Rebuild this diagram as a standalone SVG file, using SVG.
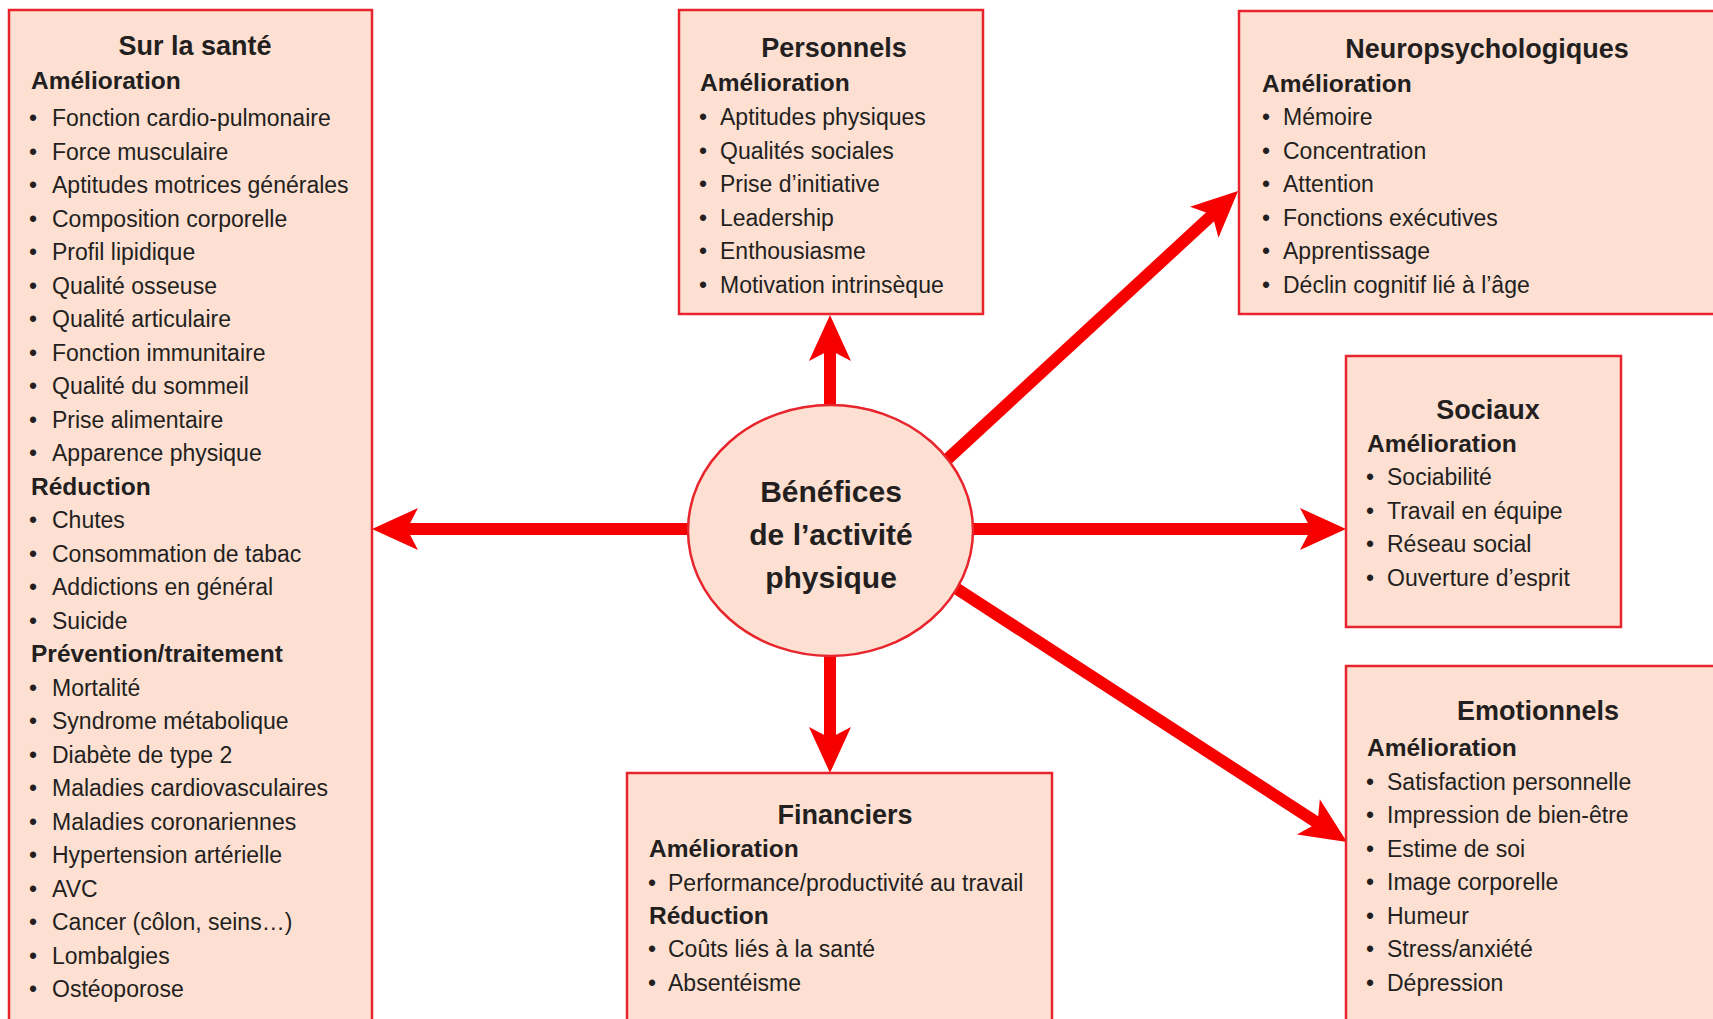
<svg xmlns="http://www.w3.org/2000/svg" width="1713" height="1019" viewBox="0 0 1713 1019">
<style>
.box{fill:#fde0d2;stroke:#e8242c;stroke-width:2.5}
text{font-family:"Liberation Sans",Arial,sans-serif;fill:#231f20}
.t{font-size:27px;font-weight:bold;text-anchor:middle}
.h{font-size:24.5px;font-weight:bold}
.i{font-size:23px}
.c{font-size:30px;font-weight:bold;text-anchor:middle}
.arr{stroke:#f70000;stroke-width:12;fill:none;marker-end:url(#ah)}
</style>
<defs>
<marker id="ah" markerUnits="userSpaceOnUse" viewBox="-20 -25 55 50" refX="0" refY="0" markerWidth="55" markerHeight="50" orient="auto" overflow="visible">
<path d="M30,0 L-16,-21 L-5,0 L-16,21 Z" fill="#f70000"/>
</marker>
</defs>
<rect width="1713" height="1019" fill="#ffffff"/>
<g id="connectors">
<line class="arr" x1="700" y1="529" x2="402" y2="529"/>
<line class="arr" x1="960" y1="529" x2="1316" y2="529"/>
<line class="arr" x1="830" y1="415" x2="830" y2="345"/>
<line class="arr" x1="830" y1="646" x2="830" y2="743"/>
<line class="arr" x1="940" y1="466" x2="1216" y2="211.4"/>
<line class="arr" x1="951" y1="585" x2="1321.8" y2="825.7"/>
</g>
<g id="center">
<ellipse class="box" cx="830.5" cy="530.5" rx="142.5" ry="125.5"/>
<text class="c" x="831" y="502">Bénéfices</text>
<text class="c" x="831" y="545">de l’activité</text>
<text class="c" x="831" y="588">physique</text>
</g>
<g id="sante">
<rect class="box" x="9" y="10" width="363" height="1030"/>
<text class="t" x="195" y="55">Sur la santé</text>
<text class="h" x="31" y="89">Amélioration</text>
<text class="i" y="126"><tspan x="29">•</tspan><tspan x="52">Fonction cardio-pulmonaire</tspan></text>
<text class="i" y="159.5"><tspan x="29">•</tspan><tspan x="52">Force musculaire</tspan></text>
<text class="i" y="193"><tspan x="29">•</tspan><tspan x="52">Aptitudes motrices générales</tspan></text>
<text class="i" y="226.5"><tspan x="29">•</tspan><tspan x="52">Composition corporelle</tspan></text>
<text class="i" y="260"><tspan x="29">•</tspan><tspan x="52">Profil lipidique</tspan></text>
<text class="i" y="293.5"><tspan x="29">•</tspan><tspan x="52">Qualité osseuse</tspan></text>
<text class="i" y="327"><tspan x="29">•</tspan><tspan x="52">Qualité articulaire</tspan></text>
<text class="i" y="360.5"><tspan x="29">•</tspan><tspan x="52">Fonction immunitaire</tspan></text>
<text class="i" y="394"><tspan x="29">•</tspan><tspan x="52">Qualité du sommeil</tspan></text>
<text class="i" y="427.5"><tspan x="29">•</tspan><tspan x="52">Prise alimentaire</tspan></text>
<text class="i" y="461"><tspan x="29">•</tspan><tspan x="52">Apparence physique</tspan></text>
<text class="h" x="31" y="494.5">Réduction</text>
<text class="i" y="528"><tspan x="29">•</tspan><tspan x="52">Chutes</tspan></text>
<text class="i" y="561.5"><tspan x="29">•</tspan><tspan x="52">Consommation de tabac</tspan></text>
<text class="i" y="595"><tspan x="29">•</tspan><tspan x="52">Addictions en général</tspan></text>
<text class="i" y="628.5"><tspan x="29">•</tspan><tspan x="52">Suicide</tspan></text>
<text class="h" x="31" y="662">Prévention/traitement</text>
<text class="i" y="695.5"><tspan x="29">•</tspan><tspan x="52">Mortalité</tspan></text>
<text class="i" y="729"><tspan x="29">•</tspan><tspan x="52">Syndrome métabolique</tspan></text>
<text class="i" y="762.5"><tspan x="29">•</tspan><tspan x="52">Diabète de type 2</tspan></text>
<text class="i" y="796"><tspan x="29">•</tspan><tspan x="52">Maladies cardiovasculaires</tspan></text>
<text class="i" y="829.5"><tspan x="29">•</tspan><tspan x="52">Maladies coronariennes</tspan></text>
<text class="i" y="863"><tspan x="29">•</tspan><tspan x="52">Hypertension artérielle</tspan></text>
<text class="i" y="896.5"><tspan x="29">•</tspan><tspan x="52">AVC</tspan></text>
<text class="i" y="930"><tspan x="29">•</tspan><tspan x="52">Cancer (côlon, seins…)</tspan></text>
<text class="i" y="963.5"><tspan x="29">•</tspan><tspan x="52">Lombalgies</tspan></text>
<text class="i" y="997"><tspan x="29">•</tspan><tspan x="52">Ostéoporose</tspan></text>
</g>
<g id="personnels">
<rect class="box" x="679" y="10" width="304" height="304"/>
<text class="t" x="834" y="57">Personnels</text>
<text class="h" x="700" y="91">Amélioration</text>
<text class="i" y="125"><tspan x="699">•</tspan><tspan x="720">Aptitudes physiques</tspan></text>
<text class="i" y="158.5"><tspan x="699">•</tspan><tspan x="720">Qualités sociales</tspan></text>
<text class="i" y="192"><tspan x="699">•</tspan><tspan x="720">Prise d’initiative</tspan></text>
<text class="i" y="225.5"><tspan x="699">•</tspan><tspan x="720">Leadership</tspan></text>
<text class="i" y="259"><tspan x="699">•</tspan><tspan x="720">Enthousiasme</tspan></text>
<text class="i" y="292.5"><tspan x="699">•</tspan><tspan x="720">Motivation intrinsèque</tspan></text>
</g>
<g id="neuropsychologiques">
<rect class="box" x="1239" y="11" width="500" height="303"/>
<text class="t" x="1487" y="58">Neuropsychologiques</text>
<text class="h" x="1262" y="92">Amélioration</text>
<text class="i" y="125"><tspan x="1262">•</tspan><tspan x="1283">Mémoire</tspan></text>
<text class="i" y="158.5"><tspan x="1262">•</tspan><tspan x="1283">Concentration</tspan></text>
<text class="i" y="192"><tspan x="1262">•</tspan><tspan x="1283">Attention</tspan></text>
<text class="i" y="225.5"><tspan x="1262">•</tspan><tspan x="1283">Fonctions exécutives</tspan></text>
<text class="i" y="259"><tspan x="1262">•</tspan><tspan x="1283">Apprentissage</tspan></text>
<text class="i" y="292.5"><tspan x="1262">•</tspan><tspan x="1283">Déclin cognitif lié à l’âge</tspan></text>
</g>
<g id="sociaux">
<rect class="box" x="1346" y="356" width="275" height="271"/>
<text class="t" x="1488" y="419">Sociaux</text>
<text class="h" x="1367" y="452">Amélioration</text>
<text class="i" y="485"><tspan x="1366">•</tspan><tspan x="1387">Sociabilité</tspan></text>
<text class="i" y="518.5"><tspan x="1366">•</tspan><tspan x="1387">Travail en équipe</tspan></text>
<text class="i" y="552"><tspan x="1366">•</tspan><tspan x="1387">Réseau social</tspan></text>
<text class="i" y="585.5"><tspan x="1366">•</tspan><tspan x="1387">Ouverture d’esprit</tspan></text>
</g>
<g id="emotionnels">
<rect class="box" x="1346" y="666" width="400" height="400"/>
<text class="t" x="1538" y="720">Emotionnels</text>
<text class="h" x="1367" y="756">Amélioration</text>
<text class="i" y="789.5"><tspan x="1366">•</tspan><tspan x="1387">Satisfaction personnelle</tspan></text>
<text class="i" y="823"><tspan x="1366">•</tspan><tspan x="1387">Impression de bien-être</tspan></text>
<text class="i" y="856.5"><tspan x="1366">•</tspan><tspan x="1387">Estime de soi</tspan></text>
<text class="i" y="890"><tspan x="1366">•</tspan><tspan x="1387">Image corporelle</tspan></text>
<text class="i" y="923.5"><tspan x="1366">•</tspan><tspan x="1387">Humeur</tspan></text>
<text class="i" y="957"><tspan x="1366">•</tspan><tspan x="1387">Stress/anxiété</tspan></text>
<text class="i" y="990.5"><tspan x="1366">•</tspan><tspan x="1387">Dépression</tspan></text>
</g>
<g id="financiers">
<rect class="box" x="627" y="773" width="425" height="300"/>
<text class="t" x="845" y="824">Financiers</text>
<text class="h" x="649" y="857">Amélioration</text>
<text class="i" y="890.5"><tspan x="648">•</tspan><tspan x="668">Performance/productivité au travail</tspan></text>
<text class="h" x="649" y="924">Réduction</text>
<text class="i" y="957"><tspan x="648">•</tspan><tspan x="668">Coûts liés à la santé</tspan></text>
<text class="i" y="990.5"><tspan x="648">•</tspan><tspan x="668">Absentéisme</tspan></text>
</g>
</svg>
